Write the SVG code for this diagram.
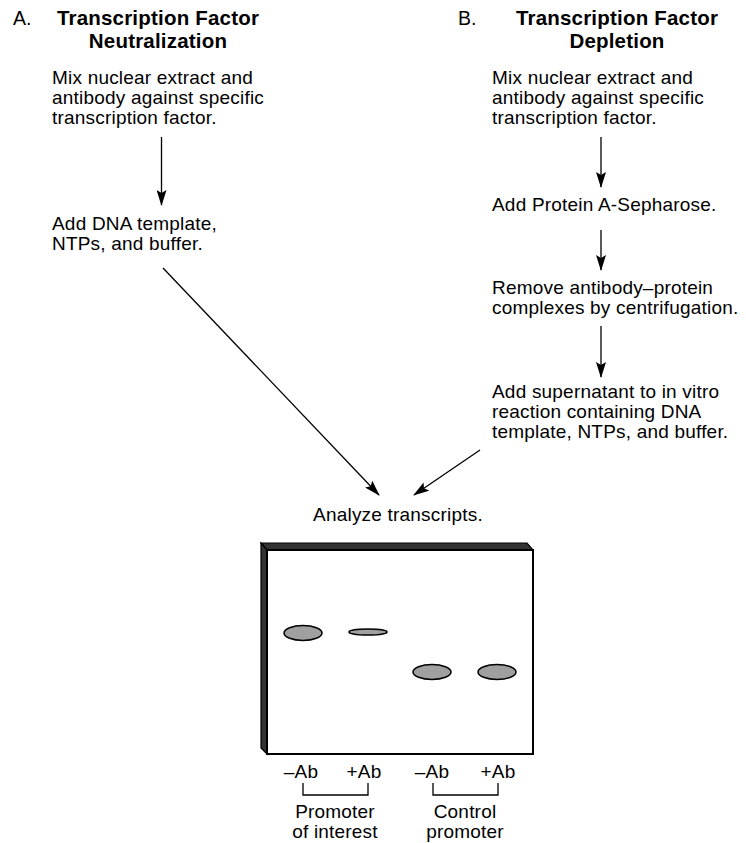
<svg xmlns="http://www.w3.org/2000/svg" width="746" height="843" viewBox="0 0 746 843">
<defs>
<style>
text{font-family:"Liberation Sans",Arial,sans-serif;fill:#000}
.b{font-size:19px;letter-spacing:0.2px}
.t{font-size:20.5px;font-weight:bold;letter-spacing:0.2px}
.h{font-size:19.5px}
.m{text-anchor:middle}
.c{stroke:#000;stroke-width:1.3;fill:none}
.band{fill:#a0a0a0;stroke:#000;stroke-width:1.5}
</style>
<marker id="ah" viewBox="0 0 16 10" refX="15" refY="5" markerWidth="16" markerHeight="10" markerUnits="userSpaceOnUse" orient="auto">
<path d="M0,0 L16,5 L0,10 L3,5 Z" fill="#000"/>
</marker>
</defs>
<g id="titleA">
<text class="h" x="13" y="25">A.</text>
<text class="t m" x="158" y="25">Transcription Factor</text>
<text class="t m" x="158" y="48">Neutralization</text>
</g>
<g id="titleB">
<text class="h" x="458" y="25">B.</text>
<text class="t m" x="617" y="25">Transcription Factor</text>
<text class="t m" x="617" y="48">Depletion</text>
</g>
<g id="a1">
<text class="b" x="52" y="84">Mix nuclear extract and</text>
<text class="b" x="52" y="104">antibody against specific</text>
<text class="b" x="52" y="124">transcription factor.</text>
</g>
<g id="a2">
<text class="b" x="52" y="230">Add DNA template,</text>
<text class="b" x="52" y="250">NTPs, and buffer.</text>
</g>
<g id="b1">
<text class="b" x="492" y="84">Mix nuclear extract and</text>
<text class="b" x="492" y="104">antibody against specific</text>
<text class="b" x="492" y="124">transcription factor.</text>
</g>
<g id="b2">
<text class="b" x="492" y="211">Add Protein A-Sepharose.</text>
</g>
<g id="b3">
<text class="b" x="492" y="294">Remove antibody–protein</text>
<text class="b" x="492" y="314">complexes by centrifugation.</text>
</g>
<g id="b4">
<text class="b" x="492" y="398">Add supernatant to in vitro</text>
<text class="b" x="492" y="418">reaction containing DNA</text>
<text class="b" x="492" y="438">template, NTPs, and buffer.</text>
</g>
<g id="analyze">
<text class="b m" x="398" y="521">Analyze transcripts.</text>
</g>
<g id="connectors">
<line class="c" x1="161.5" y1="137" x2="161.5" y2="205" marker-end="url(#ah)"/>
<line class="c" x1="601" y1="137" x2="601" y2="187" marker-end="url(#ah)"/>
<line class="c" x1="601" y1="230" x2="601" y2="270" marker-end="url(#ah)"/>
<line class="c" x1="601" y1="326" x2="601" y2="377" marker-end="url(#ah)"/>
<line class="c" x1="163" y1="268" x2="379" y2="495" marker-end="url(#ah)"/>
<line class="c" x1="480" y1="450" x2="414" y2="495" marker-end="url(#ah)"/>
</g>
<g id="gel">
<polygon points="261,543 527,543 533,550 267,550" fill="#333" stroke="#000" stroke-width="1.2"/>
<polygon points="261,543 267,550 267,754 261,748" fill="#333" stroke="#000" stroke-width="1.2"/>
<rect x="267" y="550" width="266" height="204" fill="#fff" stroke="#000" stroke-width="2"/>
<ellipse class="band" cx="303" cy="633" rx="19" ry="7.5"/>
<ellipse class="band" cx="368" cy="632" rx="19" ry="3"/>
<ellipse class="band" cx="432" cy="672" rx="19" ry="7.5"/>
<ellipse class="band" cx="497" cy="672" rx="19" ry="7.5"/>
</g>
<g id="labels">
<text class="b m" x="301" y="778">–Ab</text>
<text class="b m" x="364" y="778">+Ab</text>
<text class="b m" x="432" y="778">–Ab</text>
<text class="b m" x="498" y="778">+Ab</text>
<path class="c" d="M303,783 V795 H368 V783"/>
<path class="c" d="M433,783 V795 H498 V783"/>
<text class="b m" x="335" y="818">Promoter</text>
<text class="b m" x="335" y="838">of interest</text>
<text class="b m" x="465" y="818">Control</text>
<text class="b m" x="465" y="838">promoter</text>
</g>
</svg>
